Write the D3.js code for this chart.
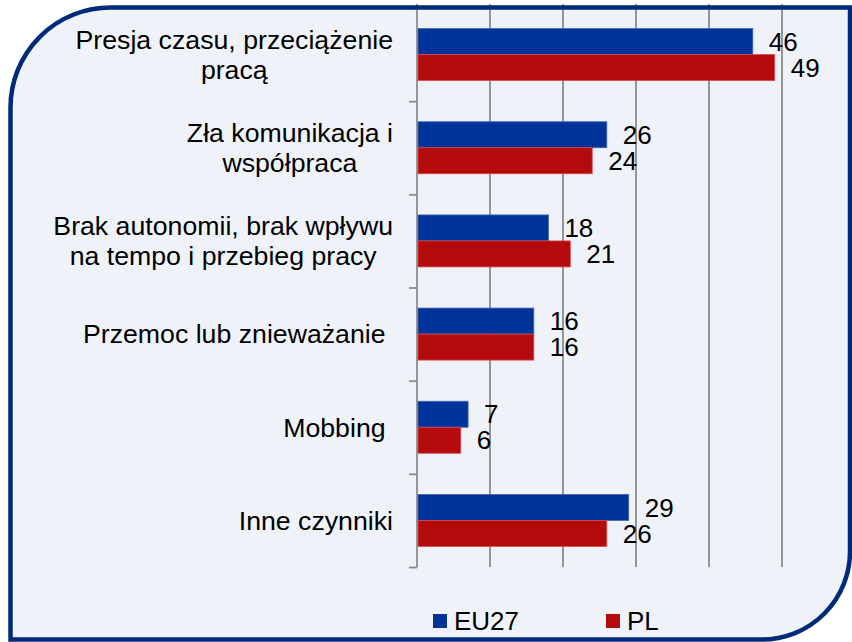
<!DOCTYPE html>
<html>
<head>
<meta charset="utf-8">
<script src="https://cdn.jsdelivr.net/npm/d3@7"></script>
<style>
body { margin:0; background:#fff; }
svg text { font-family: "Liberation Sans", Arial, sans-serif; fill:#000; }
</style>
</head>
<body>
<div id="chart"></div>
<script>
// czynniki ryzyka - etykiety (linie)
var categories = [
	["Presja czasu, przeciążenie", "pracą"],
	["Zła komunikacja i", "współpraca"],
	["Brak autonomii, brak wpływu", "na tempo i przebieg pracy"],
	["Przemoc lub znieważanie\u00a0"],
	["Mobbing\u00a0"],
	["Inne czynniki"]
];
var seriesNames = ["EU27", "PL"];
var eu27 = [46, 26, 18, 16, 7, 29];
var pl = [49, 24, 21, 16, 6, 26];
var xTicks = [0, 10, 20, 30, 40, 50];
var colors = ["#003399", "#b50a0c"];
var edges = ["#4464b0", "#d44a50"];

var width = 852, height = 642;
var plotLeft = 417, plotRight = 782, plotTop = 8, plotBottom = 567;

var svg = d3.select("#chart").append("svg")
	.attr("width", width).attr("height", height);

// fond + ramka
var r1 = 100, r2 = 88;
var bx0 = 10.5, by0 = 7.5, bx1 = 850, by1 = 639.5;
var framePath = "M" + bx0 + "," + by1
	+ " L" + bx0 + "," + (by0 + r1)
	+ " A" + r1 + "," + r1 + " 0 0 1 " + (bx0 + r1) + "," + by0
	+ " L" + bx1 + "," + by0
	+ " L" + bx1 + "," + (by1 - r2)
	+ " A" + r2 + "," + r2 + " 0 0 1 " + (bx1 - r2) + "," + by1
	+ " Z";

svg.append("path")
	.attr("d", framePath)
	.attr("fill", "#eff3f9");

var x = d3.scaleLinear()
	.domain([0, 50])
	.range([plotLeft, plotRight]);

var y = d3.scaleBand()
	.domain(d3.range(categories.length))
	.range([plotTop, plotBottom])
	.padding(0);

var ySub = d3.scaleBand()
	.domain(d3.range(seriesNames.length))
	.range([y.bandwidth() / 2 - 26, y.bandwidth() / 2 + 26]);

// linie siatki
svg.append("g").attr("class", "grid")
	.selectAll("line")
	.data(xTicks)
	.enter().append("line")
	.attr("x1", function(d) { return x(d); })
	.attr("x2", function(d) { return x(d); })
	.attr("y1", 4)
	.attr("y2", plotBottom)
	.attr("stroke", "#8c8c8c")
	.attr("stroke-width", 1.8);

// oś kategorii
var yAxis = d3.axisLeft(d3.scaleLinear().domain([0, categories.length]).range([plotTop, plotBottom]))
	.ticks(categories.length)
	.tickSize(8)
	.tickFormat("");

svg.append("g")
	.attr("class", "axisy")
	.attr("transform", "translate(" + plotLeft + ",0)")
	.call(yAxis)
	.call(function(g) {
		g.select(".domain").remove();
		g.selectAll("line").attr("stroke", "#8c8c8c").attr("stroke-width", 1.8);
	});

var rows = categories.map(function(c, i) { return { i: i, values: [eu27[i], pl[i]] }; });

var groups = svg.append("g").attr("class", "bars")
	.selectAll("g")
	.data(rows)
	.enter().append("g")
	.attr("transform", function(d) { return "translate(0," + y(d.i) + ")"; });

groups.selectAll("rect")
	.data(function(d) { return d.values.map(function(v, s) { return { v: v, s: s }; }); })
	.enter().append("rect")
	.attr("x", x(0) + 1)
	.attr("y", function(d) { return ySub(d.s); })
	.attr("width", function(d) { return x(d.v) - x(0) - 1; })
	.attr("height", ySub.bandwidth())
	.attr("fill", function(d) { return colors[d.s]; })
	.attr("stroke", function(d) { return edges[d.s]; })
	.attr("stroke-width", 0.8);

groups.selectAll("text.val")
	.data(function(d) { return d.values.map(function(v, s) { return { v: v, s: s }; }); })
	.enter().append("text")
	.attr("class", "val")
	.attr("x", function(d) { return x(d.v) + 16; })
	.attr("y", function(d) { return ySub(d.s) + ySub.bandwidth() / 2; })
	.attr("dy", "0.35em")
	.style("font-size", "26px")
	.text(function(d) { return d.v; });

// etykiety kategorii (wyśrodkowane linie, blok do prawej)
var labelRight = 393, lineH = 30;
categories.forEach(function(lines, i) {
	var cy = y(i) + y.bandwidth() / 2;
	var t = svg.append("text")
		.attr("class", "cat")
		.style("font-size", "26.7px");
	var spans = [];
	lines.forEach(function(line, k) {
		spans.push(t.append("tspan")
			.attr("y", cy + (k - (lines.length - 1) / 2) * lineH)
			.attr("dy", "0.35em")
			.text(line));
	});
	var maxW = d3.max(spans, function(s) { return s.node().getComputedTextLength(); });
	spans.forEach(function(s) {
		s.attr("x", labelRight - maxW / 2).attr("text-anchor", "middle");
	});
});

// legenda
var legendX = [433, 606];
var leg = svg.append("g").attr("class", "legend")
	.selectAll("g")
	.data(seriesNames)
	.enter().append("g")
	.attr("transform", function(d, i) { return "translate(" + legendX[i] + ",614)"; });

leg.append("rect")
	.attr("width", 14).attr("height", 14)
	.attr("fill", function(d, i) { return colors[i]; });

leg.append("text")
	.attr("x", 21)
	.attr("y", 16)
	.style("font-size", "26px")
	.text(function(d) { return d; });

// ramka na wierzchu
svg.append("path")
	.attr("d", framePath)
	.attr("fill", "none")
	.attr("stroke", "#002a7a")
	.attr("stroke-width", 4.5);
</script>
</body>
</html>
